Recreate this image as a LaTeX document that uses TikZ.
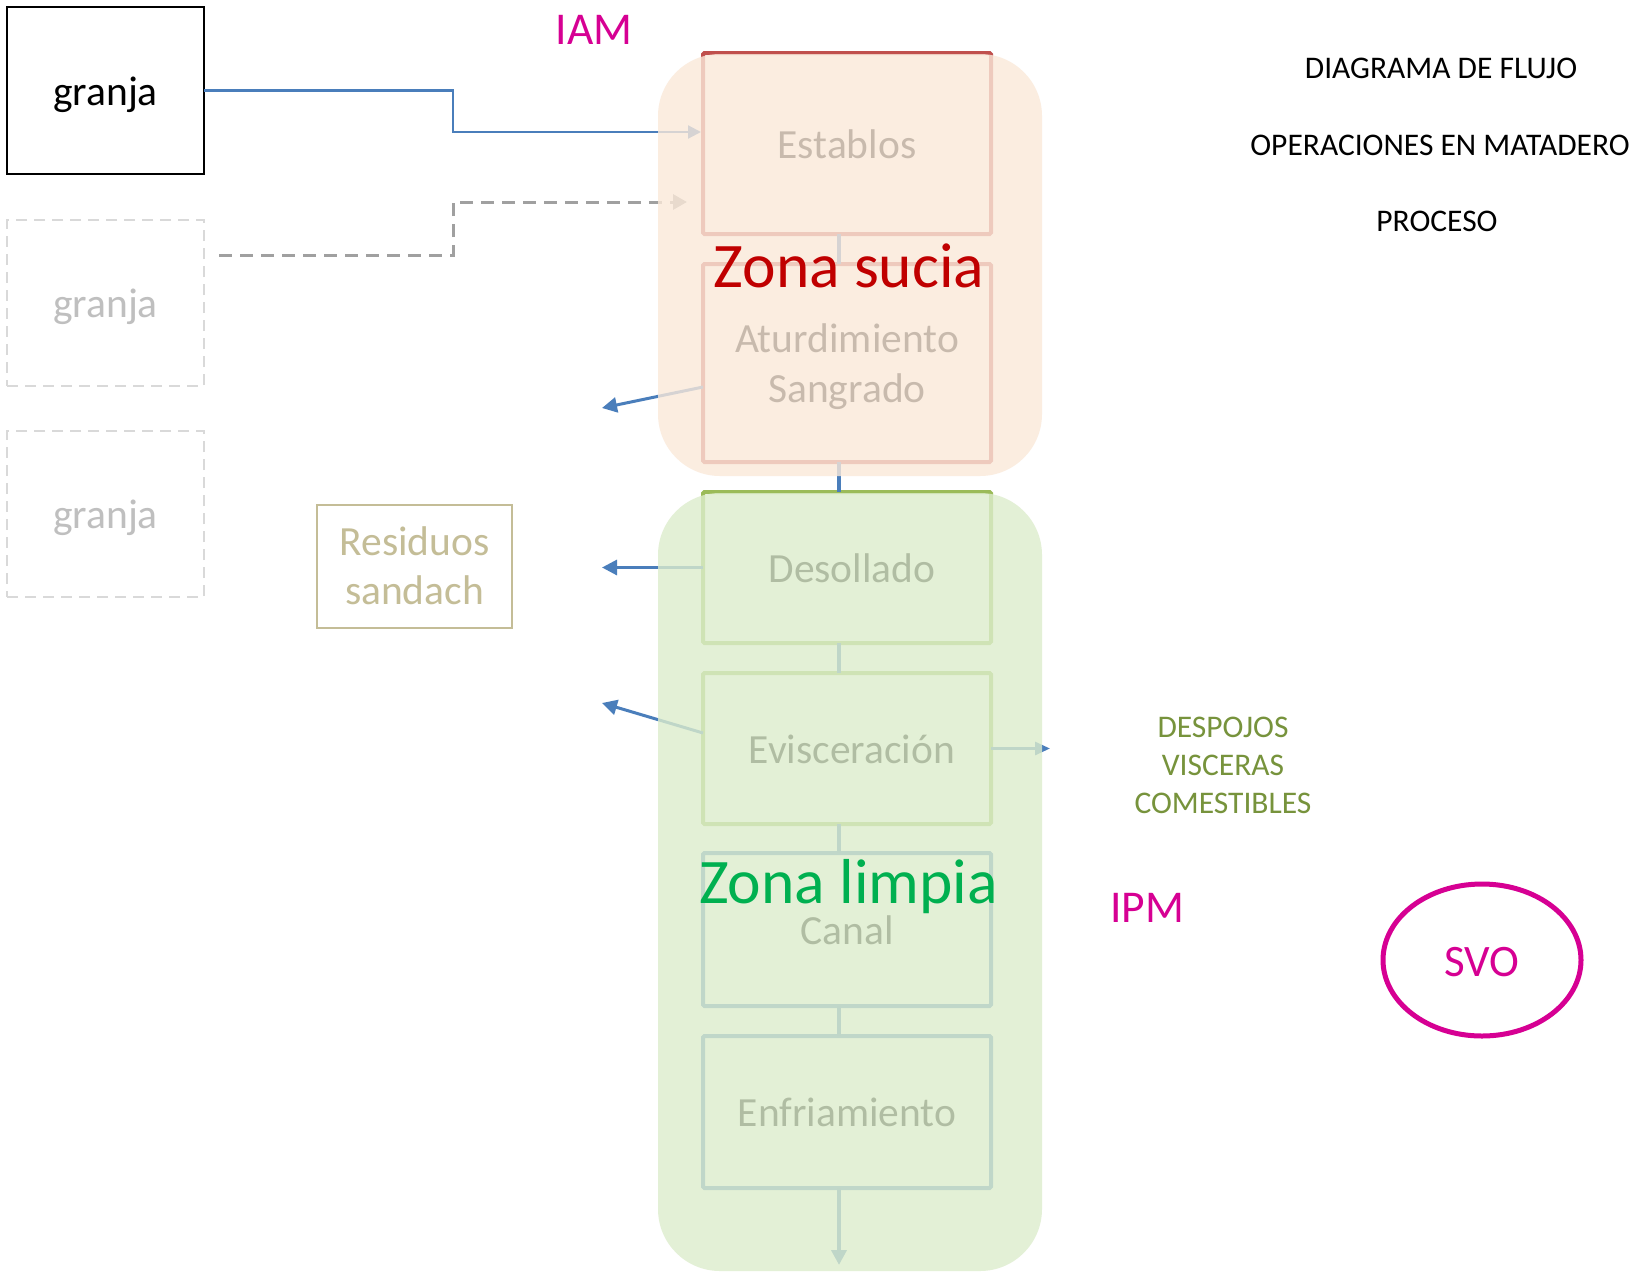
\documentclass[tikz,border=0pt]{standalone}
\usepackage{fontspec}
\setmainfont{Carlito}
\usetikzlibrary{arrows.meta,shapes.geometric}

\definecolor{conblue}{HTML}{4A7EBB}
\definecolor{boxred}{HTML}{C0504D}
\definecolor{boxgreen}{HTML}{9BBB59}
\definecolor{boxblue}{HTML}{4F81BD}
\definecolor{zonepeach}{HTML}{FAE9D9}
\definecolor{zonegreen}{HTML}{DDEDCC}
\definecolor{dirtyred}{HTML}{C00000}
\definecolor{cleangreen}{HTML}{00B050}
\definecolor{inspect}{HTML}{D60093}
\definecolor{offal}{HTML}{77933C}
\definecolor{waste}{HTML}{C4BD97}
\definecolor{farmgray}{HTML}{BFBFBF}
\definecolor{farmdash}{HTML}{D9D9D9}
\definecolor{routegray}{HTML}{A0A0A0}

% strut of given height and depth (in pt) to fix line positions
\newcommand{\lineup}[2]{\rule[-#2pt]{0pt}{\dimexpr #1pt + #2pt\relax}}

\begin{document}
\begin{tikzpicture}[x=1pt, y=-1pt,
  every node/.style={inner sep=0pt, outer sep=0pt},
  bigtext/.style={font=\fontsize{41.5}{50}\selectfont},
  oneline/.style={text height=38pt, text depth=9pt},
  farm/.style={bigtext, oneline, draw=black, line width=2pt,
    minimum width=197pt, minimum height=167pt},
  ghostfarm/.style={bigtext, oneline, draw=farmdash, text=farmgray, line width=2pt,
    dash pattern=on 11pt off 7pt, minimum width=197pt, minimum height=166pt},
  stagebox/.style={bigtext, draw, line width=4pt, rounded corners=1.5pt,
    minimum width=288pt},
  dirtybox/.style={stagebox, draw=boxred},
  cleanbox/.style={stagebox, draw=boxgreen},
  coldbox/.style={stagebox, draw=boxblue},
  link/.style={draw=conblue, line width=4pt},
  outflow/.style={draw=conblue, line width=3pt,
    -{Triangle[length=15pt,width=15pt]}},
  title/.style={font=\fontsize{31.5}{37}\selectfont, anchor=base},
  agency/.style={text=inspect, font=\fontsize{45.5}{54}\selectfont, anchor=base}
]
\fill[white] (0,0) rectangle (1640,1272);
\useasboundingbox (0,0) rectangle (1640,1272);

% farms
\node[farm] (g1) at (105.5,90.5) {granja};
\node[ghostfarm] (g2) at (105.5,303) {granja};
\node[ghostfarm] (g3) at (105.5,514) {granja};

% by-product box
\node[draw=waste, text=waste, line width=1.5pt, bigtext, align=center,
  font=\fontsize{41.5}{49}\selectfont,
  minimum width=195pt, minimum height=123pt] (res) at (414.5,566.5)
  {\lineup{36}{0}Residuos\\sandach\lineup{0}{10}};

% process stages
\node[dirtybox, oneline, minimum height=181pt] (estab) at (847,143.5) {Establos};
\node[dirtybox, align=center, minimum height=198pt] (aturd) at (847,363)
  {\lineup{38}{0}Aturdimiento\\Sangrado\lineup{0}{10}};
\node[cleanbox, oneline, minimum height=151pt] (desol) at (847,567.5) {\hspace*{10pt}Desollado};
\node[cleanbox, oneline, minimum height=151pt] (evis) at (847,748.5) {\hspace*{10pt}Evisceración};
\node[coldbox, oneline, minimum height=153pt] (canal) at (847,929.5) {Canal};
\node[coldbox, oneline, minimum height=152pt] (enfr) at (847,1112) {Enfriamiento};

% flow between stages
\coordinate (spine) at (839,0);
\coordinate (chill) at (839,1265);
\draw[link] (estab.south -| spine) -- (aturd.north -| spine);
\draw[link] (aturd.south -| spine) -- (desol.north -| spine);
\draw[link] (desol.south -| spine) -- (evis.north -| spine);
\draw[link] (evis.south -| spine) -- (canal.north -| spine);
\draw[link] (canal.south -| spine) -- (enfr.north -| spine);
\draw[link, -{Triangle[length=15pt,width=15pt]}] (enfr.south -| spine) -- (chill);

% arrivals from farms
\coordinate (turn) at (453,0);
\coordinate (arrive) at (0,132);
\draw[draw=conblue, line width=2.2pt, -{Triangle[length=13pt,width=13pt]}]
  (g1.east) -- (g1.east -| turn) -- (turn |- arrive) -- ([xshift=-2pt]estab.west |- arrive);
\coordinate (d0) at (219,255);
\coordinate (d1) at (687,202);
\draw[draw=routegray, line width=3pt, dash pattern=on 13pt off 8pt,
  -{Triangle[length=14pt,width=15pt]}]
  (d0) -- (d0 -| turn) -- (turn |- d1) -- (d1);

% outputs
\coordinate (aOut) at (0,387);
\coordinate (wA) at (602,408);
\coordinate (wB) at (602,567.5);
\coordinate (eOut) at (0,733);
\coordinate (wC) at (602,703);
\coordinate (wD) at (1050,748.5);
\draw[outflow] (aturd.west |- aOut) -- (wA);
\draw[outflow] (desol.west) -- (wB);
\draw[outflow] (evis.west |- eOut) -- (wC);
\draw[outflow, -{Triangle[length=15pt,width=13pt]}] (evis.east) -- (wD);

% hygiene zones laid over the stages
\fill[zonepeach, fill opacity=0.8, rounded corners=62pt] (658,54) rectangle (1042,476);
\fill[zonegreen, fill opacity=0.8, rounded corners=62pt] (658,493) rectangle (1042,1271);

\node[text=dirtyred, font=\fontsize{63.5}{75}\selectfont, anchor=base] (zs) at (849,287) {Zona sucia};
\node[text=cleangreen, font=\fontsize{63.5}{75}\selectfont, anchor=base] (zl) at (848.5,903) {Zona limpia};

% headings
\node[title] (t1) at (1441,78) {DIAGRAMA DE FLUJO};
\node[title] (t2) at (1440,155) {OPERACIONES EN MATADERO};
\node[title] (t3) at (1437,231) {PROCESO};

% inspection labels
\node[agency] (iam) at (594,44) {IAM};
\node[agency] (ipm) at (1147,922) {IPM};
\node[draw=inspect, line width=5pt, ellipse, minimum width=198pt, minimum height=152pt,
  text=inspect, font=\fontsize{45}{54}\selectfont, text height=32pt, text depth=0pt]
  (svo) at (1482,960) {SVO};

% edible offal
\node[text=offal, align=center, font=\fontsize{31.5}{38}\selectfont] (desp) at (1223,766)
  {\lineup{26}{0}DESPOJOS\\VISCERAS\\COMESTIBLES\lineup{0}{8}};
\end{tikzpicture}
\end{document}
